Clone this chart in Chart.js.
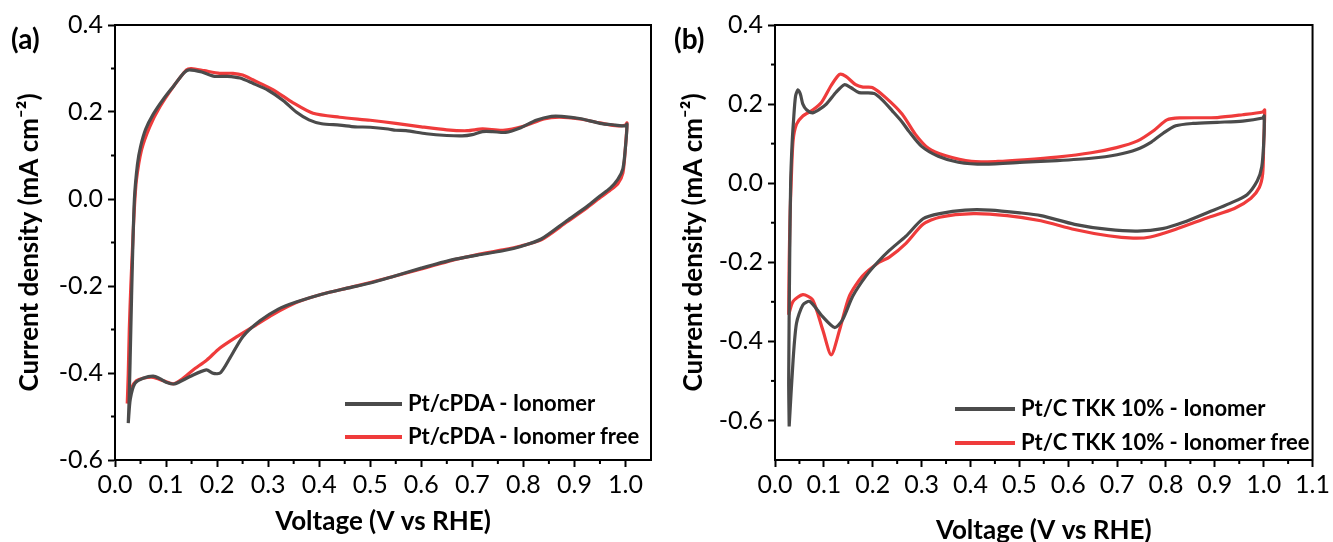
<!DOCTYPE html>
<html>
<head>
<meta charset="utf-8">
<script src="https://cdn.jsdelivr.net/npm/chart.js@4.4.0/dist/chart.umd.min.js"></script>
<style>
  body { margin: 0; background: #fff; width: 1333px; height: 542px; overflow: hidden; position: relative; font-family: Lato, sans-serif; }
  canvas { position: absolute; top: 0; }
  #chartA { left: 0; }
  #chartB { left: 666px; }
  .tag { position: absolute; top: 23px; font: bold 28px Lato, sans-serif; line-height: 30px; color: #000; }
  .legend { position: absolute; font: bold 22px Lato, sans-serif; color: #000; }
  .legend div { position: absolute; white-space: nowrap; height: 26px; line-height: 26px; }
  .legend span { display: inline-block; vertical-align: middle; height: 4px; margin-right: 6px; margin-top: -2px; }
</style>
</head>
<body>
<canvas id="chartA" width="666" height="542"></canvas>
<canvas id="chartB" width="667" height="542"></canvas>
<div class="tag" style="left:11px">(a)</div>
<div class="tag" style="left:674px">(b)</div>
<div class="legend" id="legendA" style="left:345px; top:390px"></div>
<div class="legend" id="legendB" style="left:955px; top:395px"></div>
<script>
(() => {

  // Panel (a) - Pt/cPDA
  const vA_ion = [0.026, 0.028, 0.031, 0.034, 0.038, 0.044, 0.050, 0.060, 0.075, 0.095, 0.115, 0.135, 0.145, 0.170, 0.195, 0.220, 0.245, 0.270, 0.300, 0.330, 0.355, 0.380, 0.405, 0.440, 0.470, 0.500, 0.535, 0.550, 0.570, 0.610, 0.650, 0.680, 0.700, 0.720, 0.740, 0.765, 0.795, 0.825, 0.855, 0.875, 0.910, 0.950, 0.980, 1.000, 1.003, 1.000, 0.995, 0.985, 0.970, 0.950, 0.925, 0.885, 0.835, 0.795, 0.760, 0.710, 0.660, 0.600, 0.545, 0.500, 0.455, 0.405, 0.355, 0.320, 0.284, 0.250, 0.225, 0.207, 0.193, 0.179, 0.147, 0.117, 0.100, 0.088, 0.075, 0.055, 0.039, 0.030, 0.026];
  const jA_ion = [-0.515, -0.450, -0.300, -0.150, 0.000, 0.080, 0.120, 0.160, 0.195, 0.230, 0.260, 0.290, 0.297, 0.292, 0.282, 0.282, 0.278, 0.266, 0.250, 0.226, 0.200, 0.182, 0.173, 0.170, 0.166, 0.165, 0.161, 0.158, 0.157, 0.150, 0.146, 0.145, 0.148, 0.155, 0.155, 0.153, 0.164, 0.181, 0.190, 0.190, 0.185, 0.174, 0.170, 0.168, 0.172, 0.120, 0.070, 0.045, 0.025, 0.007, -0.017, -0.050, -0.092, -0.109, -0.119, -0.129, -0.140, -0.159, -0.178, -0.193, -0.205, -0.219, -0.237, -0.253, -0.280, -0.317, -0.366, -0.399, -0.401, -0.393, -0.408, -0.425, -0.421, -0.413, -0.407, -0.412, -0.424, -0.460, -0.515];

  const vA_free = [0.024, 0.026, 0.028, 0.031, 0.035, 0.038, 0.042, 0.052, 0.068, 0.088, 0.114, 0.140, 0.150, 0.175, 0.205, 0.231, 0.250, 0.270, 0.310, 0.349, 0.388, 0.440, 0.500, 0.550, 0.600, 0.650, 0.690, 0.720, 0.760, 0.800, 0.840, 0.870, 0.910, 0.950, 0.985, 1.000, 1.003, 1.000, 0.995, 0.985, 0.970, 0.950, 0.925, 0.885, 0.835, 0.795, 0.760, 0.710, 0.660, 0.600, 0.545, 0.500, 0.455, 0.405, 0.355, 0.310, 0.270, 0.238, 0.205, 0.180, 0.153, 0.130, 0.114, 0.095, 0.075, 0.055, 0.042, 0.032, 0.026, 0.024];
  const jA_free = [-0.470, -0.400, -0.300, -0.200, -0.094, -0.020, 0.044, 0.113, 0.166, 0.212, 0.258, 0.297, 0.300, 0.295, 0.289, 0.289, 0.285, 0.274, 0.251, 0.221, 0.197, 0.188, 0.181, 0.174, 0.166, 0.159, 0.157, 0.161, 0.158, 0.167, 0.184, 0.188, 0.184, 0.175, 0.168, 0.170, 0.175, 0.120, 0.060, 0.035, 0.020, 0.003, -0.020, -0.053, -0.094, -0.108, -0.117, -0.128, -0.141, -0.161, -0.178, -0.192, -0.205, -0.219, -0.238, -0.265, -0.294, -0.317, -0.343, -0.370, -0.393, -0.415, -0.425, -0.418, -0.410, -0.412, -0.418, -0.435, -0.465, -0.470];

  // Panel (b) - Pt/C TKK 10%
  const vB_ion = [0.029, 0.028, 0.030, 0.032, 0.035, 0.038, 0.042, 0.047, 0.052, 0.057, 0.065, 0.077, 0.090, 0.105, 0.125, 0.142, 0.155, 0.172, 0.203, 0.220, 0.240, 0.260, 0.274, 0.300, 0.334, 0.375, 0.429, 0.510, 0.577, 0.647, 0.700, 0.740, 0.770, 0.795, 0.820, 0.855, 0.905, 0.957, 0.998, 1.001, 1.000, 0.996, 0.987, 0.966, 0.931, 0.888, 0.836, 0.793, 0.742, 0.682, 0.613, 0.544, 0.501, 0.441, 0.389, 0.337, 0.303, 0.268, 0.234, 0.210, 0.186, 0.159, 0.138, 0.122, 0.097, 0.071, 0.057, 0.044, 0.037, 0.029];
  const jB_ion = [-0.615, -0.500, -0.200, 0.000, 0.100, 0.160, 0.220, 0.236, 0.225, 0.200, 0.185, 0.178, 0.186, 0.200, 0.230, 0.249, 0.242, 0.229, 0.227, 0.210, 0.183, 0.155, 0.131, 0.093, 0.068, 0.053, 0.048, 0.053, 0.057, 0.063, 0.072, 0.085, 0.104, 0.127, 0.145, 0.151, 0.154, 0.157, 0.165, 0.170, 0.100, 0.041, 0.006, -0.029, -0.051, -0.073, -0.099, -0.115, -0.121, -0.117, -0.104, -0.082, -0.075, -0.068, -0.068, -0.077, -0.090, -0.134, -0.170, -0.200, -0.235, -0.286, -0.346, -0.365, -0.337, -0.299, -0.308, -0.354, -0.448, -0.615];

  const vB_free = [0.028, 0.029, 0.031, 0.033, 0.037, 0.044, 0.057, 0.077, 0.095, 0.115, 0.132, 0.145, 0.165, 0.180, 0.199, 0.226, 0.260, 0.287, 0.314, 0.348, 0.402, 0.456, 0.510, 0.577, 0.647, 0.699, 0.742, 0.776, 0.802, 0.828, 0.905, 0.957, 0.998, 1.002, 1.000, 0.998, 0.991, 0.974, 0.940, 0.888, 0.819, 0.768, 0.733, 0.682, 0.613, 0.544, 0.475, 0.406, 0.337, 0.303, 0.268, 0.234, 0.213, 0.179, 0.152, 0.132, 0.115, 0.098, 0.077, 0.057, 0.037, 0.028];
  const jB_free = [-0.333, -0.200, -0.073, 0.000, 0.107, 0.149, 0.170, 0.185, 0.204, 0.247, 0.275, 0.270, 0.249, 0.243, 0.242, 0.217, 0.175, 0.124, 0.088, 0.070, 0.055, 0.055, 0.059, 0.066, 0.077, 0.090, 0.107, 0.134, 0.160, 0.165, 0.166, 0.173, 0.180, 0.185, 0.100, 0.024, -0.011, -0.038, -0.064, -0.086, -0.117, -0.136, -0.139, -0.133, -0.117, -0.095, -0.082, -0.077, -0.086, -0.104, -0.152, -0.187, -0.200, -0.235, -0.286, -0.372, -0.434, -0.372, -0.295, -0.282, -0.299, -0.333];

  // Series names
  const labelsA = ['Pt/cPDA - Ionomer', 'Pt/cPDA - Ionomer free'];
  const labelsB = ['Pt/C TKK 10% - Ionomer', 'Pt/C TKK 10% - Ionomer free'];

  // Tick values
  const xTicksA = [0.0, 0.1, 0.2, 0.3, 0.4, 0.5, 0.6, 0.7, 0.8, 0.9, 1.0];
  const xTicksB = [0.0, 0.1, 0.2, 0.3, 0.4, 0.5, 0.6, 0.7, 0.8, 0.9, 1.0, 1.1];
  const yTicks = [0.4, 0.2, 0.0, -0.2, -0.4, -0.6];

  const GRAY = '#4b4b4b';
  const RED = '#ef3b3b';
  const FONT = 'Lato';

  const toPoints = (xs, ys) => xs.map((x, i) => ({ x: x, y: ys[i] }));

  // Frame on top/right and short minor ticks halfway between major ticks
  const frameTicks = {
    id: 'frameTicks',
    afterDraw(chart) {
      const { ctx, chartArea: a, scales: { x, y } } = chart;
      ctx.save();
      ctx.strokeStyle = '#000';
      ctx.lineWidth = 2;
      ctx.strokeRect(a.left, a.top, a.right - a.left, a.bottom - a.top);
      const xt = x.ticks.map(t => t.value);
      for (let i = 0; i < xt.length; i++) {
        const v = xt[i] + 0.05;
        if (v >= x.max - 1e-6) continue;
        const px = x.getPixelForValue(v);
        ctx.beginPath();
        ctx.moveTo(px, a.bottom);
        ctx.lineTo(px, a.bottom + 4);
        ctx.stroke();
      }
      const yt = y.ticks.map(t => t.value);
      for (let i = 0; i < yt.length; i++) {
        const v = yt[i] - 0.1;
        if (v <= y.min + 1e-6) continue;
        const py = y.getPixelForValue(v);
        ctx.beginPath();
        ctx.moveTo(a.left, py);
        ctx.lineTo(a.left - 4, py);
        ctx.stroke();
      }
      ctx.restore();
    }
  };

  function makeChart(canvas, cfg) {
    return new Chart(canvas, {
      type: 'scatter',
      data: {
        datasets: [
          { label: cfg.labels[0], data: toPoints(cfg.v[0], cfg.j[0]), borderColor: GRAY, backgroundColor: GRAY },
          { label: cfg.labels[1], data: toPoints(cfg.v[1], cfg.j[1]), borderColor: RED, backgroundColor: RED }
        ]
      },
      options: {
        responsive: false,
        animation: false,
        showLine: true,
        elements: {
          point: { radius: 0, hoverRadius: 0 },
          line: { borderWidth: 3.2, tension: 0.25, fill: false }
        },
        layout: { padding: { left: 0, right: 15, top: 25, bottom: 0 } },
        plugins: { legend: { display: false }, tooltip: { enabled: false } },
        scales: {
          x: {
            type: 'linear',
            min: 0,
            max: cfg.xMax,
            afterBuildTicks: (s) => { s.ticks = cfg.xTicks.map(v => ({ value: v })); },
            afterFit: (s) => { s.height = 82; },
            grid: { drawOnChartArea: false, tickLength: 7, tickWidth: 2, tickColor: '#000' },
            border: { color: '#000', width: 2 },
            ticks: { color: '#000', padding: 3, font: { family: FONT, size: 25 }, callback: (v) => v.toFixed(1) },
            title: { display: true, text: 'Voltage (V vs RHE)', color: '#000', font: { family: FONT, size: 26, weight: 'bold', lineHeight: cfg.xTitleLH }, padding: { top: 0, bottom: cfg.xTitlePad } }
          },
          y: {
            type: 'linear',
            min: cfg.yMin,
            max: 0.4,
            afterBuildTicks: (s) => { s.ticks = yTicks.map(v => ({ value: v })); },
            afterFit: (s) => { s.width = cfg.yWidth; },
            grid: { drawOnChartArea: false, tickLength: 7, tickWidth: 2, tickColor: '#000' },
            border: { color: '#000', width: 2 },
            ticks: { color: '#000', padding: 5, font: { family: FONT, size: 25 }, callback: (v) => v.toFixed(1) },
            title: { display: true, text: 'Current density (mA cm\u207B\u00B2)', color: '#000', font: { family: FONT, size: 26, weight: 'bold' }, padding: { top: cfg.yTitlePad, bottom: 0 } }
          }
        }
      },
      plugins: [frameTicks]
    });
  }

  const chartA = makeChart(document.querySelector('#chartA'), {
    labels: labelsA, v: [vA_ion, vA_free], j: [jA_ion, jA_free],
    xMax: 1.05, xTicks: xTicksA, yMin: -0.6, yWidth: 115, yTitlePad: 14, xTitleLH: 1.2, xTitlePad: 5
  });

  const chartB = makeChart(document.querySelector('#chartB'), {
    labels: labelsB, v: [vB_ion, vB_free], j: [jB_ion, jB_free],
    xMax: 1.1, xTicks: xTicksB, yMin: -0.7, yWidth: 109, yTitlePad: 12, xTitleLH: 0.9, xTitlePad: 0
  });

  // Legends built from the chart datasets
  function buildLegend(el, chart, lineWidth, gap) {
    chart.data.datasets.forEach((ds, i) => {
      const row = document.createElement('div');
      row.style.top = (i * gap) + 'px';
      const sw = document.createElement('span');
      sw.style.width = lineWidth + 'px';
      sw.style.background = ds.borderColor;
      row.appendChild(sw);
      row.appendChild(document.createTextNode(ds.label));
      el.appendChild(row);
    });
  }
  buildLegend(document.querySelector('#legendA'), chartA, 57, 33);
  buildLegend(document.querySelector('#legendB'), chartB, 60, 34);

})();
</script>
</body>
</html>
